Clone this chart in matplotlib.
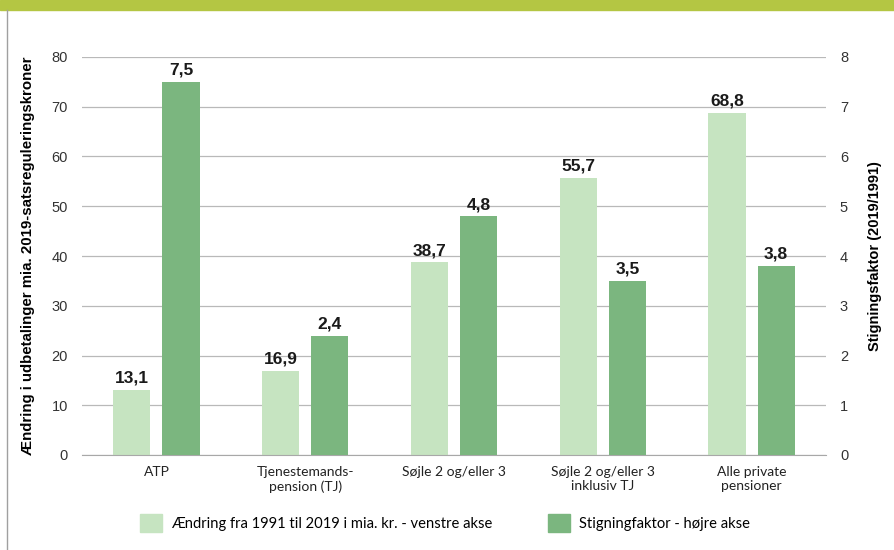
"""
Pensionsudbetalinger 1991-2019: ændring (venstre akse) og stigningsfaktor (højre akse).
"""

import matplotlib.pyplot as plt
from matplotlib.patches import Rectangle
import numpy as np

CATEGORIES = ["ATP", "Tjenestemands-\npension (TJ)", "Søjle 2 og/eller 3",
              "Søjle 2 og/eller 3\ninklusiv TJ", "Alle private\npensioner"]
CHANGE_BN = [13.1, 16.9, 38.7, 55.7, 68.8]
GROWTH_FACTOR = [7.5, 2.4, 4.8, 3.5, 3.8]

LEFT_TICKS = [0, 10, 20, 30, 40, 50, 60, 70, 80]
RIGHT_TICKS = [0, 1, 2, 3, 4, 5, 6, 7, 8]

LIGHT = "#c6e4c1"
DARK = "#7bb67f"
GRID = "#b9b9b9"
BAND = "#b4c643"

plt.rcParams["font.family"] = ["Liberation Sans", "DejaVu Sans"]

fig = plt.figure(figsize=(8.94, 5.5), dpi=100)
ax = fig.add_axes([82 / 894, 1 - 455 / 550, 744 / 894, 398 / 550])
ax2 = ax.twinx()

x = np.arange(len(CATEGORIES))
width = 0.25
off = 0.165

ax.bar(x - off, CHANGE_BN, width, color=LIGHT, zorder=2)
ax2.bar(x + off, GROWTH_FACTOR, width, color=DARK, zorder=2)

# value labels, danish decimal comma
for xi, v in zip(x, CHANGE_BN):
    ax.annotate(f"{v:.1f}".replace(".", ","), (xi - off, v), xytext=(0, 3),
                textcoords="offset points", ha="center", va="bottom",
                fontsize=12.5, fontweight="bold", color="#1a1a1a")
for xi, v in zip(x, GROWTH_FACTOR):
    ax2.annotate(f"{v:.1f}".replace(".", ","), (xi + off, v), xytext=(0, 3),
                 textcoords="offset points", ha="center", va="bottom",
                 fontsize=12.5, fontweight="bold", color="#1a1a1a")

ax.set_xlim(-0.5, len(CATEGORIES) - 0.5)
ax.set_ylim(0, 80)
ax2.set_ylim(0, 8)
ax.set_yticks(LEFT_TICKS)
ax2.set_yticks(RIGHT_TICKS)
ax.yaxis.grid(True, color=GRID, linewidth=0.9, zorder=0)
ax.set_axisbelow(True)

for a in (ax, ax2):
    for s in a.spines.values():
        s.set_visible(False)
    a.tick_params(axis="y", length=0, labelsize=10.5, colors="#333333")
ax.tick_params(axis="y", pad=10)
ax2.tick_params(axis="y", pad=10)
ax.spines["bottom"].set_visible(True)
ax.spines["bottom"].set_color("#a8a8a8")

ax.set_xticks(x)
ax.set_xticklabels(CATEGORIES, fontsize=10, color="#222222", family=["Lato", "DejaVu Sans"])
ax.tick_params(axis="x", length=0, pad=8)

ax.set_ylabel("Ændring i udbetalinger mia. 2019-satsreguleringskroner",
              fontsize=10.8, fontweight="bold", labelpad=12)
ax2.set_ylabel("Stigningsfaktor (2019/1991)", fontsize=10.5, fontweight="bold", labelpad=14)

# legend drawn below the plot
ax.legend(handles=[Rectangle((0, 0), 1, 1, color=LIGHT), Rectangle((0, 0), 1, 1, color=DARK)],
          labels=["Ændring fra 1991 til 2019 i mia. kr. - venstre akse",
                  "Stigningfaktor - højre akse"],
          loc="center", bbox_to_anchor=(445 / 894, 1 - 523 / 550), bbox_transform=fig.transFigure,
          ncol=2, frameon=False, handlelength=1.5, handleheight=1.5, columnspacing=3.8,
          handletextpad=0.6, prop={"family": ["Lato", "DejaVu Sans"], "size": 10.6})

# frame decorations: green band on top, grey line on the left
fig.add_artist(Rectangle((0, 1 - 10 / 550), 1, 10 / 550, transform=fig.transFigure,
                         color=BAND, zorder=0))
fig.add_artist(plt.Line2D([7 / 894, 7 / 894], [0, 1 - 10 / 550], transform=fig.transFigure,
                          color="#a0a0a0", linewidth=1))

fig.savefig("out.png", dpi=100)
